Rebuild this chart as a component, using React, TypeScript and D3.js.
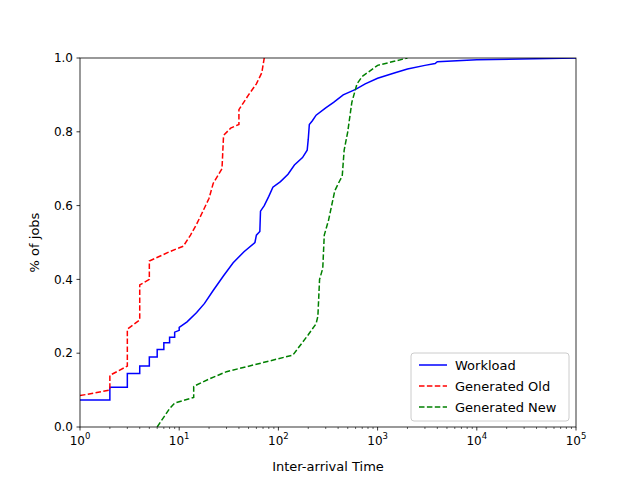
import React from "react";
import * as d3 from "d3";

type P = [number, number];

const workload: P[] = [
  [1, 0.073], [2, 0.073], [2, 0.108], [3, 0.108], [3, 0.145], [4, 0.145], [4, 0.165], [5, 0.165],
  [5, 0.19], [6, 0.19], [6, 0.21], [7, 0.21], [7, 0.228], [8, 0.228], [8, 0.243], [9, 0.243],
  [9, 0.257], [10, 0.262], [10, 0.27], [12, 0.285], [15, 0.31], [18, 0.335], [22, 0.37],
  [28, 0.41], [35, 0.445], [45, 0.475], [58, 0.5], [60, 0.52], [65, 0.53], [66, 0.585],
  [72, 0.6], [80, 0.625], [88, 0.65], [105, 0.665], [125, 0.685], [145, 0.71], [175, 0.73],
  [195, 0.75], [200, 0.78], [205, 0.82], [220, 0.83], [240, 0.845], [300, 0.865],
  [360, 0.88], [450, 0.9], [600, 0.915], [750, 0.93], [1000, 0.945], [1500, 0.96],
  [2000, 0.97], [3000, 0.98], [3800, 0.985], [4000, 0.99], [10000, 0.995], [100000, 1.0],
];

const generatedOld: P[] = [
  [1, 0.085], [2, 0.1], [2, 0.14], [3, 0.165], [3, 0.265], [4, 0.29], [4, 0.385], [5, 0.4],
  [5, 0.45], [8, 0.475], [11, 0.49], [13, 0.52], [15, 0.55], [17, 0.58], [20, 0.62],
  [22, 0.66], [27, 0.7], [28, 0.79], [33, 0.81], [40, 0.82], [40, 0.86], [50, 0.9],
  [60, 0.93], [68, 0.96], [72, 1.0],
];

const generatedNew: P[] = [
  [6, 0], [8, 0.05], [9, 0.065], [14, 0.08], [14, 0.11], [20, 0.13], [30, 0.15], [60, 0.17],
  [100, 0.185], [140, 0.195], [200, 0.25], [240, 0.28], [250, 0.3], [260, 0.4], [280, 0.43],
  [290, 0.52], [320, 0.56], [370, 0.64], [420, 0.67], [440, 0.68], [460, 0.75], [500, 0.8],
  [550, 0.88], [620, 0.93], [700, 0.95], [1000, 0.98], [2000, 1.0],
];

const series = [
  { name: "Workload", data: workload, color: "blue", dash: null as string | null },
  { name: "Generated Old", data: generatedOld, color: "red", dash: "5.5,2.4" },
  { name: "Generated New", data: generatedNew, color: "green", dash: "5.5,2.4" },
];

const majorExps = [0, 1, 2, 3, 4, 5];
const yTicks = [0, 0.2, 0.4, 0.6, 0.8, 1.0];

export default function App() {
  const W = 640, H = 480;
  const m = { l: 80, r: 576, t: 58, b: 427 };
  const x = d3.scaleLog().domain([1, 1e5]).range([m.l, m.r]);
  const y = d3.scaleLinear().domain([0, 1]).range([m.b, m.t]);
  const line = d3.line<P>().x(d => x(d[0])).y(d => y(d[1]));
  const minor: number[] = [];
  for (let e = 0; e < 5; e++) for (let k = 2; k < 10; k++) minor.push(k * 10 ** e);
  const font = "DejaVu Sans, sans-serif";

  return (
    <svg width={W} height={H} style={{ position: "absolute", left: 0, top: 0, fontFamily: font }}>
      <rect width={W} height={H} fill="white" />
      <defs>
        <clipPath id="clip"><rect x={m.l} y={m.t} width={m.r - m.l} height={m.b - m.t} /></clipPath>
      </defs>
      <g clipPath="url(#clip)">
        {series.map(s => (
          <path key={s.name} d={line(s.data) || ""} fill="none" stroke={s.color} strokeWidth={1.5}
            strokeDasharray={s.dash || undefined} />
        ))}
      </g>
      <rect x={m.l} y={m.t} width={m.r - m.l} height={m.b - m.t} fill="none" stroke="black" strokeWidth={0.8} />
      {minor.map(v => (
        <line key={v} x1={x(v)} x2={x(v)} y1={m.b} y2={m.b + 2} stroke="black" strokeWidth={0.6} />
      ))}
      {majorExps.map(e => (
        <g key={e} transform={`translate(${x(10 ** e)},${m.b})`}>
          <line y2={3.5} stroke="black" strokeWidth={0.8} />
          <text y={18} textAnchor="middle" fontSize={12}>
            10<tspan dy={-6} fontSize={8.5}>{e}</tspan>
          </text>
        </g>
      ))}
      {yTicks.map(t => (
        <g key={t} transform={`translate(${m.l},${y(t)})`}>
          <line x2={-3.5} stroke="black" strokeWidth={0.8} />
          <text x={-7} dy="0.35em" textAnchor="end" fontSize={12}>{t.toFixed(1)}</text>
        </g>
      ))}
      <text x={(m.l + m.r) / 2} y={471} textAnchor="middle" fontSize={13}>Inter-arrival Time</text>
      <text transform={`translate(39,${(m.t + m.b) / 2}) rotate(-90)`} textAnchor="middle" fontSize={13}>% of jobs</text>
      <g transform="translate(411,353)">
        <rect width={158} height={68} rx={3} fill="white" fillOpacity={0.8} stroke="#ccc" />
        {series.map((s, i) => (
          <g key={s.name} transform={`translate(8,${12 + i * 21})`}>
            <line x2={28} stroke={s.color} strokeWidth={1.5} strokeDasharray={s.dash || undefined} />
            <text x={36} dy="0.35em" fontSize={13}>{s.name}</text>
          </g>
        ))}
      </g>
    </svg>
  );
}
